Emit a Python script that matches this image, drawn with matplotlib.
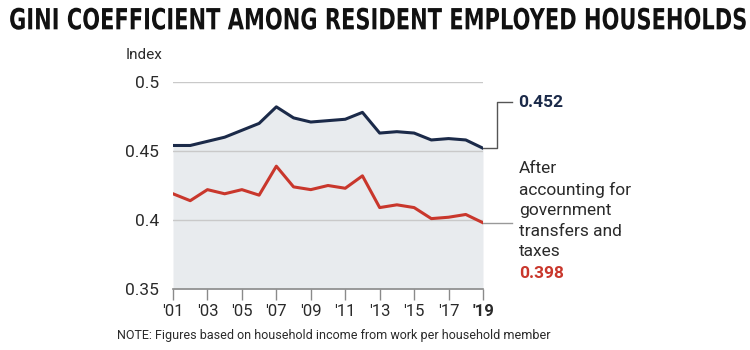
import matplotlib
matplotlib.use("Agg")
import matplotlib.pyplot as plt
from matplotlib.patheffects import AbstractPathEffect
from matplotlib.transforms import Affine2D

years = list(range(2001, 2020))
gini_before = [0.454, 0.454, 0.457, 0.460, 0.465, 0.470, 0.482, 0.474, 0.471, 0.472,
               0.473, 0.478, 0.463, 0.464, 0.463, 0.458, 0.459, 0.458, 0.452]
gini_after = [0.419, 0.414, 0.422, 0.419, 0.422, 0.418, 0.439, 0.424, 0.422, 0.425,
              0.423, 0.432, 0.409, 0.411, 0.409, 0.401, 0.402, 0.404, 0.398]
tick_years = [2001, 2003, 2005, 2007, 2009, 2011, 2013, 2015, 2017, 2019]
tick_labels = ["'01", "'03", "'05", "'07", "'09", "'11", "'13", "'15", "'17", "'19"]
y_ticks = [0.35, 0.4, 0.45, 0.5]
y_labels = ["0.35", "0.4", "0.45", "0.5"]

NAVY = "#1b2a49"
RED = "#c9372c"
FILL = "#e8ebee"
GRID = "#c9c9c9"
TXT = "#2a2a2a"


class VerticalStretch(AbstractPathEffect):
    """Draw text paths stretched vertically around a centre y (display px)."""
    def __init__(self, sy, cy):
        super().__init__()
        self.sy = sy
        self.cy = cy

    def draw_path(self, renderer, gc, tpath, affine, rgbFace=None):
        aff = affine + Affine2D().translate(0, -self.cy).scale(1, self.sy).translate(0, self.cy)
        renderer.draw_path(gc, tpath, aff, rgbFace)


plt.rcParams['font.family'] = ['Roboto', 'DejaVu Sans']

fig = plt.figure(figsize=(7.5, 3.5), dpi=100)
fig.patch.set_facecolor("white")
ax = fig.add_axes([173/750, 1-289/350, (483-173)/750, (289-82)/350])
ax.set_xlim(2001, 2019)
ax.set_ylim(0.35, 0.5)
ax.set_facecolor("none")

ax.fill_between(years, gini_before, 0.35, color=FILL, lw=0, zorder=1)
for yv in [0.4, 0.45, 0.5]:
    ax.axhline(yv, color=GRID, lw=1, zorder=2)
ax.plot(years, gini_before, color=NAVY, lw=2.2, zorder=4)
ax.plot(years, gini_after, color=RED, lw=2.2, zorder=4)

for s in ["top", "right", "left"]:
    ax.spines[s].set_visible(False)
ax.spines["bottom"].set_color("#8a8a8a")
ax.spines["bottom"].set_linewidth(1.2)
ax.spines["bottom"].set_zorder(5)

ax.set_xticks(tick_years)
ax.set_xticklabels(tick_labels)
ax.tick_params(axis='x', length=8, width=1, color="#8a8a8a", labelsize=12,
               labelcolor=TXT, pad=3)
ax.get_xticklabels()[-1].set_fontweight('bold')
ax.set_yticks(y_ticks)
ax.set_yticklabels(y_labels)
ax.tick_params(axis='y', length=0, labelsize=12.5, labelcolor=TXT, pad=10)

# Connectors
last_x = years[-1]
ax.plot([last_x, 2019.81, 2019.81, 2020.68],
        [gini_before[-1], gini_before[-1], 0.4855, 0.4855],
        color="#555555", lw=1, clip_on=False, zorder=3)
ax.plot([last_x, 2020.68], [gini_after[-1], gini_after[-1]],
        color="#999999", lw=1, clip_on=False, zorder=3)

ax.text(2021.03, 0.4855, "0.452", color=NAVY, fontsize=12.5, fontweight='bold',
        va='center', ha='left', clip_on=False)
fig.text(519/750, 1-161/350, "After\naccounting for\ngovernment\ntransfers and\ntaxes",
         color=TXT, fontsize=12.5, va='top', ha='left', linespacing=1.45)
fig.text(519/750, 1-274/350, "0.398", color=RED, fontsize=12.5, fontweight='bold',
         va='center', ha='left')

fig.text(126/750, 1-55/350, "Index", color=TXT, fontsize=11, va='center', ha='left')

# Title: condensed look made by fitting the width and stretching glyphs vertically
base_size = 21.0
title = fig.text(377/750, 1-21/350, "GINI COEFFICIENT AMONG RESIDENT EMPLOYED HOUSEHOLDS",
                 fontsize=base_size, fontweight='bold', color="#111111", ha='center',
                 va='center', family=['DejaVu Sans'])
fig.canvas.draw()
bb = title.get_window_extent()
fit_size = base_size * 737.0 / bb.width
title.set_fontsize(fit_size)
fig.canvas.draw()
bb = title.get_window_extent()
title.set_path_effects([VerticalStretch(base_size / fit_size, (bb.y0 + bb.y1) / 2.0)])

fig.text(117/750, 1-335/350,
         "NOTE: Figures based on household income from work per household member",
         fontsize=9, color=TXT, ha='left', va='center')

fig.savefig("out.png", dpi=100, facecolor="white")
